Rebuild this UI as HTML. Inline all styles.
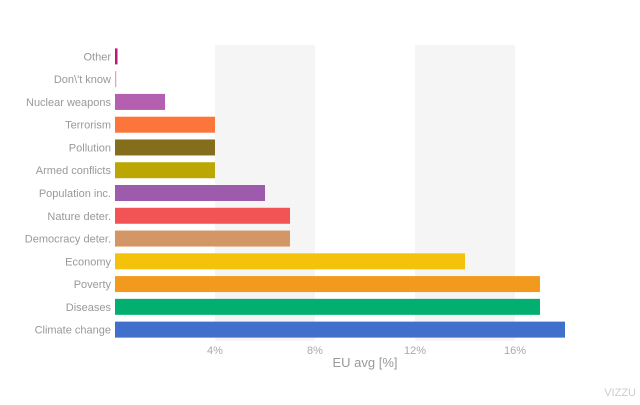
<!DOCTYPE html>
<html><head><meta charset="utf-8"><style>
body{margin:0;background:#fff;font-family:"Liberation Sans",sans-serif}
svg text{font-family:"Liberation Sans",sans-serif}
</style></head><body>
<svg id="chart" width="640" height="400">
<g id="stripes"></g><g id="bars"></g><g id="ylabels"></g><g id="xticks"></g>
<text x="365" y="367" font-size="13" fill="#999" text-anchor="middle">EU avg [%]</text>
<text x="636" y="396" font-size="11" fill="#ccc" text-anchor="end">VIZZU</text>
</svg>
<script>
const categories=["Other","Don\\'t know","Nuclear weapons","Terrorism","Pollution","Armed conflicts","Population inc.","Nature deter.","Democracy deter.","Economy","Poverty","Diseases","Climate change"];
const values=[0.1,0.05,2,4,4,4,6,7,7,14,17,17,18];
const colors=["#bd1a78","#e79bd7","#b55fb0","#fc763c","#846e1c","#bca604","#9c5bab","#f25456","#d49664","#f4c20a","#f29a1e","#03ae71","#416fcc"];
const ticks=[4,8,12,16];
const NS="http://www.w3.org/2000/svg";
const x0=115,pxPer=25,plotTop=45,plotBottom=341;
const step=(plotBottom-plotTop)/categories.length;
const xs=v=>x0+v*pxPer;
function mk(t,a){const e=document.createElementNS(NS,t);for(const k in a)e.setAttribute(k,a[k]);return e;}
for(let i=0;i<ticks.length;i+=2){
 const r=mk("rect",{x:xs(ticks[i]),y:plotTop,width:xs(ticks[i+1])-xs(ticks[i]),height:plotBottom-plotTop,fill:"#f5f5f5"});
 
 
 document.getElementById("stripes").appendChild(r);
}
categories.forEach((c,i)=>{
 const yc=plotTop+step*(i+0.5);
 const r=mk("rect",{x:x0,y:yc-8,width:Math.max(1,xs(values[i])-x0),height:16,fill:colors[i]});
 
 
 document.getElementById("bars").appendChild(r);
 const t=mk("text",{x:111,y:yc+4,"font-size":11,fill:"#999","text-anchor":"end"});
 t.textContent=c;
 
 
 document.getElementById("ylabels").appendChild(t);
});
ticks.forEach(v=>{
 const t=mk("text",{x:xs(v),y:354,"font-size":11,fill:"#aaa","text-anchor":"middle"});
 t.textContent=v+"%";
 
 
 document.getElementById("xticks").appendChild(t);
});
</script>
</body></html>
